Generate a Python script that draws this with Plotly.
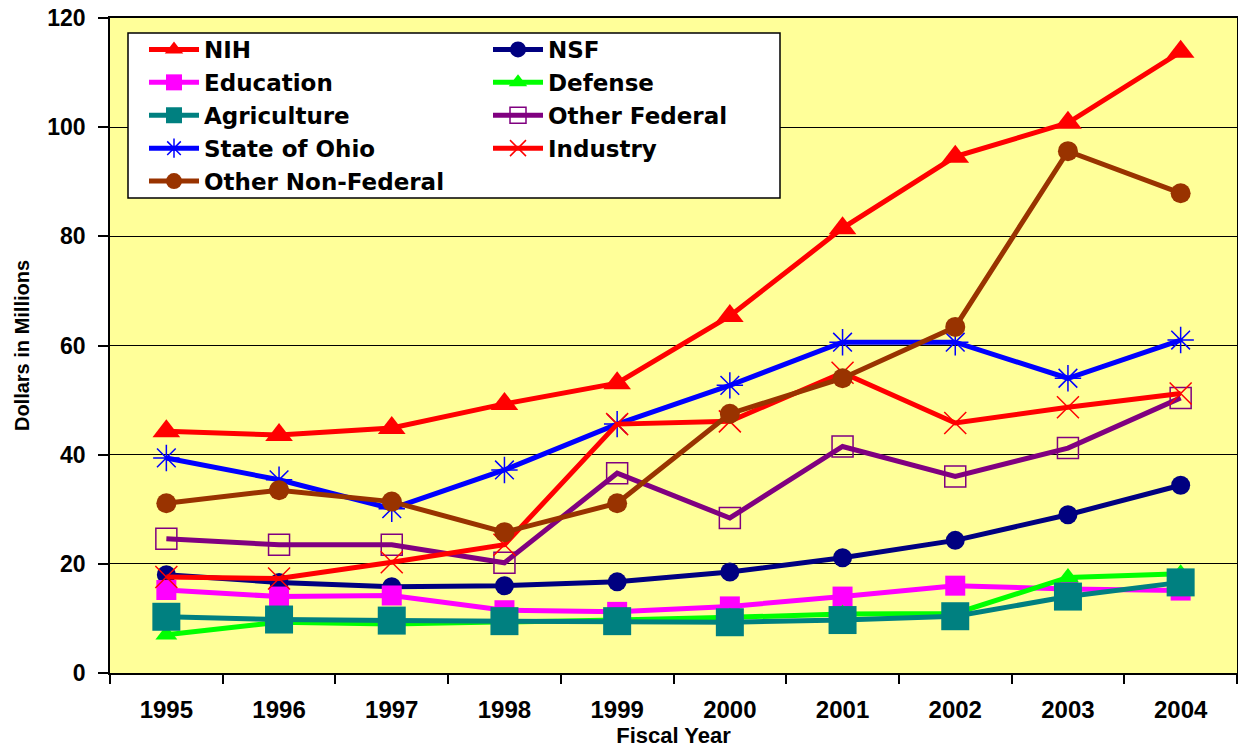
import plotly.graph_objects as go

years = ["1995", "1996", "1997", "1998", "1999", "2000", "2001", "2002", "2003", "2004"]

nih = [44.3, 43.6, 44.9, 49.3, 53.1, 65.4, 81.5, 94.6, 100.8, 113.8]
nsf = [18.0, 16.6, 15.8, 16.0, 16.7, 18.5, 21.1, 24.3, 29.0, 34.4]
education = [15.2, 14.0, 14.2, 11.5, 11.2, 12.2, 14.0, 16.0, 15.4, 15.1]
defense = [7.0, 9.3, 9.0, 9.3, 9.7, 10.2, 10.8, 10.9, 17.5, 18.2]
agriculture = [10.3, 9.8, 9.6, 9.5, 9.5, 9.3, 9.7, 10.4, 14.0, 16.6]
other_federal = [24.6, 23.5, 23.5, 20.2, 36.6, 28.4, 41.5, 36.0, 41.2, 50.4]
ohio = [39.4, 35.4, 30.1, 37.2, 45.6, 52.7, 60.6, 60.6, 54.0, 61.0]
industry = [17.6, 17.3, 20.3, 23.5, 45.6, 46.1, 55.0, 45.8, 48.7, 51.2]
other_nonfed = [31.1, 33.5, 31.4, 25.8, 31.1, 47.5, 54.0, 63.4, 95.6, 87.9]

series = [
    # name, values, color, symbol, size, legend
    ("NIH", nih, "#FF0000", "triangle-up", 24, "legend"),
    ("NSF", nsf, "#000080", "circle", 19, "legend2"),
    ("Education", education, "#FF00FF", "square", 20, "legend"),
    ("Defense", defense, "#00FF00", "triangle-up", 19, "legend2"),
    ("Agriculture", agriculture, "#008080", "square", 28, "legend"),
    ("Other Federal", other_federal, "#800080", "square-open", 21, "legend2"),
    ("State of Ohio", ohio, "#0000FF", "asterisk-open", 22, "legend"),
    ("Industry", industry, "#FF0000", "x-thin-open", 22, "legend2"),
    ("Other Non-Federal", other_nonfed, "#993300", "circle", 20, "legend"),
]

fig = go.Figure()
for name, vals, color, symbol, size, leg in series:
    mk = dict(symbol=symbol, size=size, color=color)
    if symbol in ("square-open", "asterisk-open", "x-thin-open"):
        mk["line"] = dict(color=color, width=1.5)
    fig.add_trace(go.Scatter(
        x=years, y=vals, name=name, mode="lines+markers",
        line=dict(color=color, width=5),
        marker=mk, legend=leg,
    ))

W, H = 1238, 749
ml, mr, mt, mb = 110, 1, 18, 76
pw, ph = W - ml - mr, H - mt - mb

def px_x(p):
    return (p - ml) / pw

def px_y(p):
    return (H - mb - p) / ph

legend_font = dict(family="DejaVu Sans", size=23, color="black", weight="bold")

fig.add_shape(type="rect", xref="paper", yref="paper",
              x0=px_x(128), x1=px_x(780), y0=px_y(198), y1=px_y(33),
              fillcolor="white", line=dict(color="black", width=1.5), layer="above")

fig.update_layout(
    width=W, height=H, autosize=False,
    margin=dict(l=ml, r=mr, t=mt, b=mb, autoexpand=False),
    paper_bgcolor="white",
    plot_bgcolor="#FFFF99",
    font=dict(family="Liberation Sans", color="black"),
    legend=dict(x=px_x(144), y=px_y(28), xanchor="left", yanchor="top",
                bgcolor="rgba(0,0,0,0)", font=legend_font, itemwidth=50,
                tracegroupgap=0),
    legend2=dict(x=px_x(488), y=px_y(28), xanchor="left", yanchor="top",
                 bgcolor="rgba(0,0,0,0)", font=legend_font, itemwidth=50,
                 tracegroupgap=0),
    xaxis=dict(
        type="category", range=[-0.5, len(years) - 0.5],
        tickson="boundaries", ticks="outside", ticklen=9,
        tickcolor="black", tickwidth=1.5, showgrid=False, automargin=False,
        showline=True, linecolor="black", linewidth=1.5, mirror=True,
        tickfont=dict(size=24, family="Liberation Sans", weight="bold"),
        ticklabelstandoff=14,
        title=dict(text="<b>Fiscal Year</b>", font=dict(size=22), standoff=2),
    ),
    yaxis=dict(
        range=[0, 120], dtick=20, ticks="outside", ticklen=10,
        tickcolor="black", tickwidth=1.5, automargin=False,
        showgrid=True, gridcolor="black", gridwidth=1.2,
        showline=True, linecolor="black", linewidth=1.5, mirror=True,
        zeroline=False,
        tickfont=dict(size=23, family="Liberation Sans", weight="bold"),
        ticklabelstandoff=8,
        title=dict(text="<b>Dollars in Millions</b>", font=dict(size=20), standoff=12),
    ),
)

fig.write_html(
    "out.html",
    config={"responsive": False, "displayModeBar": False},
    default_width="1238px",
    default_height="749px",
    post_script=(
        "document.documentElement.style.overflow='hidden';"
        "document.body.style.margin='0';document.body.style.overflow='hidden';"
    ),
)
